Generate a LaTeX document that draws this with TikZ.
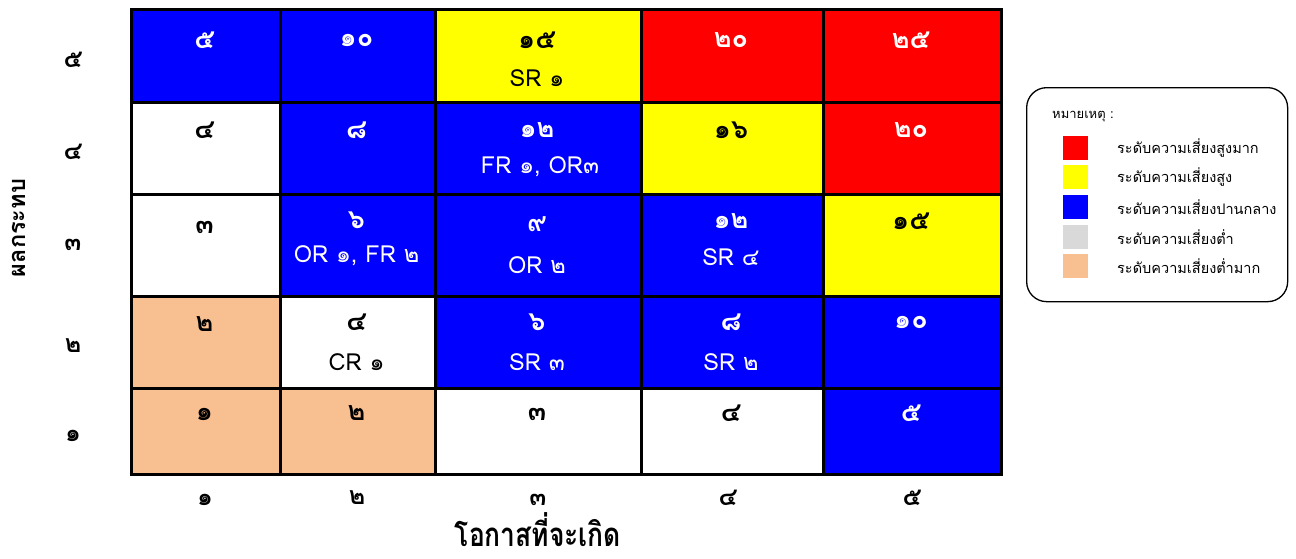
\documentclass[tikz,border=0pt]{standalone}
\usepackage{fontspec}
\newfontfamily\thai[Script=Thai]{Loma}
\definecolor{rblue}{RGB}{0,0,255}
\definecolor{rred}{RGB}{255,0,0}
\definecolor{ryellow}{RGB}{255,255,0}
\definecolor{rpeach}{RGB}{248,192,144}
\definecolor{rgray}{RGB}{217,217,217}
\begin{document}
\begin{tikzpicture}[x=1pt,y=-1pt,
  cell/.style={draw=black,line width=2.6pt,anchor=north west,inner sep=0pt},
  num/.style={font=\thai\bfseries\fontsize{27}{30}\selectfont,inner sep=0pt},
  code/.style={font=\thai\fontsize{23.5}{26}\selectfont,inner sep=0pt},
  axnum/.style={font=\thai\bfseries\fontsize{25}{28}\selectfont,inner sep=0pt},
  legsq/.style={minimum width=25pt,minimum height=24pt,inner sep=0pt},
  legtxt/.style={font=\thai\fontsize{14.5}{17}\selectfont,anchor=west,inner sep=0pt}]
\useasboundingbox (0,0) rectangle (1296,558);
\fill[white] (0,0) rectangle (1296,558);
% columns: 130 279 434 640 822 1000 ; rows: 8 101 193 295 387 473
\def\cellat#1#2#3#4#5#6{\node[cell,fill=#6,minimum width=#4pt,minimum height=#5pt] (#1) at (#2,#3) {};}
% row 5
\cellat{c51}{130}{8}{149}{93}{rblue}
\cellat{c52}{279}{8}{155}{93}{rblue}
\cellat{c53}{434}{8}{206}{93}{ryellow}
\cellat{c54}{640}{8}{182}{93}{rred}
\cellat{c55}{822}{8}{178}{93}{rred}
% row 4
\cellat{c41}{130}{101}{149}{92}{white}
\cellat{c42}{279}{101}{155}{92}{rblue}
\cellat{c43}{434}{101}{206}{92}{rblue}
\cellat{c44}{640}{101}{182}{92}{ryellow}
\cellat{c45}{822}{101}{178}{92}{rred}
% row 3
\cellat{c31}{130}{193}{149}{102}{white}
\cellat{c32}{279}{193}{155}{102}{rblue}
\cellat{c33}{434}{193}{206}{102}{rblue}
\cellat{c34}{640}{193}{182}{102}{rblue}
\cellat{c35}{822}{193}{178}{102}{ryellow}
% row 2
\cellat{c21}{130}{295}{149}{92}{rpeach}
\cellat{c22}{279}{295}{155}{92}{white}
\cellat{c23}{434}{295}{206}{92}{rblue}
\cellat{c24}{640}{295}{182}{92}{rblue}
\cellat{c25}{822}{295}{178}{92}{rblue}
% row 1
\cellat{c11}{130}{387}{149}{86}{rpeach}
\cellat{c12}{279}{387}{155}{86}{rpeach}
\cellat{c13}{434}{387}{206}{86}{white}
\cellat{c14}{640}{387}{182}{86}{white}
\cellat{c15}{822}{387}{178}{86}{rblue}
% numbers
\node[num,white] (n51) at (204.5,40) {๕};
\node[num,white] (n52) at (356.5,40) {๑๐};
\node[num] (n53) at (537,40) {๑๕};
\node[code] (t53) at (537,78) {SR ๑};
\node[num,white] (n54) at (731,40) {๒๐};
\node[num,white] (n55) at (911,40) {๒๕};
\node[num] (n41) at (204.5,130) {๔};
\node[num,white] (n42) at (356.5,130) {๘};
\node[num,white] (n43) at (537,130) {๑๒};
\node[code,white] (t43) at (540,167) {FR ๑, OR๓};
\node[num] (n44) at (731,130) {๑๖};
\node[num,white] (n45) at (911,130) {๒๐};
\node[num] (n31) at (204.5,227) {๓};
\node[num,white] (n32) at (356.5,220) {๖};
\node[code,white] (t32) at (356.5,256) {OR ๑, FR ๒};
\node[num,white] (n33) at (537,224) {๙};
\node[code,white] (t33) at (537,265) {OR ๒};
\node[num,white] (n34) at (731,221) {๑๒};
\node[code,white] (t34) at (731,257) {SR ๔};
\node[num] (n35) at (911,221) {๑๕};
\node[num] (n21) at (204.5,324) {๒};
\node[num] (n22) at (356.5,322) {๔};
\node[code] (t22) at (356.5,362) {CR ๑};
\node[num,white] (n23) at (537,322) {๖};
\node[code,white] (t23) at (537,362) {SR ๓};
\node[num,white] (n24) at (731,322) {๘};
\node[code,white] (t24) at (731,362) {SR ๒};
\node[num,white] (n25) at (911,322) {๑๐};
\node[num] (n11) at (204.5,414) {๑};
\node[num] (n12) at (356.5,413) {๒};
\node[num] (n13) at (537,414) {๓};
\node[num] (n14) at (731,413) {๔};
\node[num,white] (n15) at (911,413) {๕};
% y axis numbers
\node[axnum] (y5) at (73,60) {๕};
\node[axnum] (y4) at (73,152) {๔};
\node[axnum] (y3) at (73,245) {๓};
\node[axnum] (y2) at (73,346) {๒};
\node[axnum] (y1) at (73,436) {๑};
% x axis numbers
\node[axnum] (x1) at (205,500) {๑};
\node[axnum] (x2) at (357,498) {๒};
\node[axnum] (x3) at (538,500) {๓};
\node[axnum] (x4) at (728,498) {๔};
\node[axnum] (x5) at (912,498) {๕};
% axis titles
\node[font=\thai\bfseries\fontsize{33}{36}\selectfont,inner sep=0pt,anchor=base] (xt) at (538,546) {\scalebox{0.8}[1]{โอกาสที่จะเกิด}};
\node[font=\thai\bfseries\fontsize{23.5}{26}\selectfont,inner sep=0pt,rotate=90] (yt) at (19,228) {ผลกระทบ};
% legend
\node[draw=black,line width=1.3pt,rounded corners=20pt,minimum width=261pt,minimum height=214pt,anchor=north west] (leg) at (1026,87) {};
\node[font=\thai\fontsize{13}{15}\selectfont,anchor=west,inner sep=0pt] (lt) at (1052,117) {หมายเหตุ :};
\node[legsq,fill=rred] (s1) at (1075.5,148) {};
\node[legsq,fill=ryellow] (s2) at (1075.5,177) {};
\node[legsq,fill=rblue] (s3) at (1075.5,207) {};
\node[legsq,fill=rgray] (s4) at (1075.5,237) {};
\node[legsq,fill=rpeach] (s5) at (1075.5,266) {};
\node[legtxt] (l1) at (1117,148) {ระดับความเสี่ยงสูงมาก};
\node[legtxt] (l2) at (1117,177) {ระดับความเสี่ยงสูง};
\node[legtxt] (l3) at (1117,207) {ระดับความเสี่ยงปานกลาง};
\node[legtxt] (l4) at (1117,237) {ระดับความเสี่ยงต่ำ};
\node[legtxt] (l5) at (1117,266) {ระดับความเสี่ยงต่ำมาก};
\end{tikzpicture}
\end{document}
